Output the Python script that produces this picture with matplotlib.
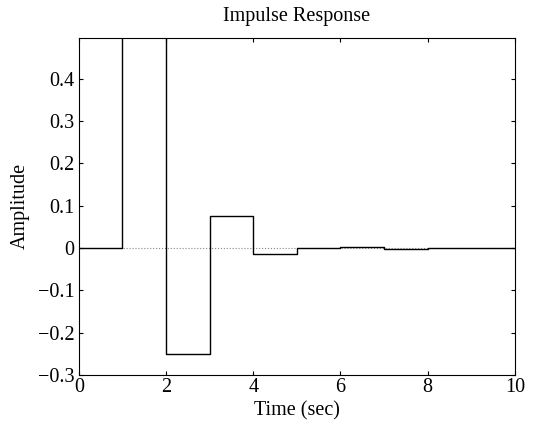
import matplotlib.pyplot as plt

# step levels of the discrete impulse response (held for 1 s each)
t = [0, 1, 2, 3, 4, 5, 6, 7, 8, 9, 10]
h = [0.0, 1.0, -0.25, 0.075, -0.014, -0.001, 0.003, -0.002, 0.001, 0.0, 0.0]

xticks = [0, 2, 4, 6, 8, 10]
yticks = [-0.3, -0.2, -0.1, 0, 0.1, 0.2, 0.3, 0.4]
yticklabels = ['\u22120.3', '\u22120.2', '\u22120.1', '0', '0.1', '0.2', '0.3', '0.4']

plt.rcParams['font.family'] = ['Liberation Serif', 'DejaVu Serif']
plt.rcParams['font.size'] = 14.5

fig = plt.figure(figsize=(5.33, 4.26), dpi=100)
ax = fig.add_axes([0.148, 0.12, 0.818, 0.791])

ax.plot([0, 10], [0, 0], color='#888888', linestyle=':', linewidth=0.8)
ax.step(t, h, where='post', color='black', linewidth=1.0)

ax.set_xlim(0, 10)
ax.set_ylim(-0.3, 0.497)
ax.set_xticks(xticks)
ax.set_yticks(yticks)
ax.set_yticklabels(yticklabels)
ax.tick_params(direction='in', top=True, right=True, length=3, pad=2)
ax.tick_params(axis='y', pad=3)

ax.set_title('Impulse Response', fontsize=14.5, pad=12)
ax.set_xlabel('Time (sec)', labelpad=3)
ax.set_ylabel('Amplitude', labelpad=6)

fig.savefig('out.png', dpi=100)
